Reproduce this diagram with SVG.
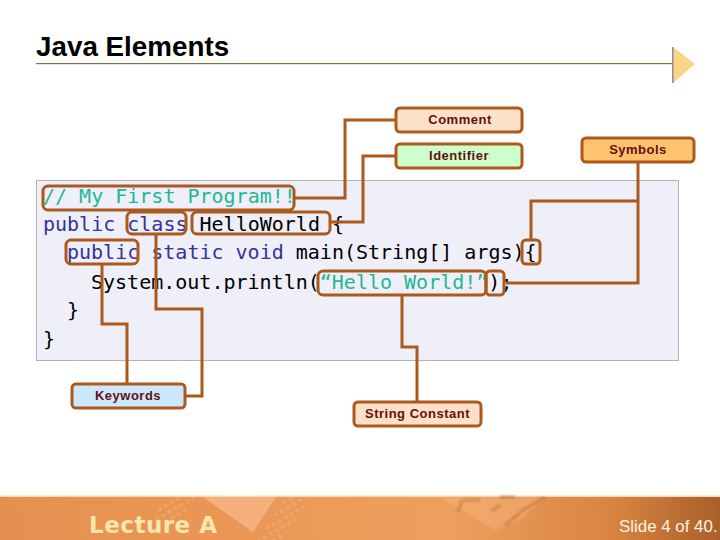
<svg xmlns="http://www.w3.org/2000/svg" width="720" height="540" viewBox="0 0 720 540">
<style>
.code{font-family:"DejaVu Sans Mono","Liberation Mono",monospace;font-size:20px;fill:#000}
.kw{fill:#333399}.cm{fill:#1fb894}
.hl{fill:none;stroke:#ab5a1c;stroke-width:3}
.box{stroke:#ab5a1c;stroke-width:3}
.lbl{font-family:"Liberation Sans",Arial,sans-serif;font-size:13px;font-weight:bold;fill:#660f0f;text-anchor:middle;letter-spacing:.5px}
#connectors path{fill:none;stroke:#ab5a1c;stroke-width:3}
.mark{fill:none;stroke:#b8702e;stroke-width:3;opacity:.55;filter:url(#soft)}
</style>
<defs>
<filter id="soft" x="-20%" y="-20%" width="140%" height="140%"><feGaussianBlur stdDeviation="1"/></filter>
<linearGradient id="foot" x1="0" x2="1" y1="0" y2="0">
<stop offset="0" stop-color="#e59050"/><stop offset=".3" stop-color="#ea9654"/><stop offset=".62" stop-color="#efa05e"/><stop offset=".85" stop-color="#d98440"/><stop offset="1" stop-color="#a8602a"/>
</linearGradient>
<linearGradient id="fade" x1="0" x2="0" y1="0" y2="1">
<stop offset="0" stop-color="#fff" stop-opacity="0"/><stop offset="1" stop-color="#f6c49a"/>
</linearGradient>
<pattern id="dots" width="7" height="7" patternUnits="userSpaceOnUse" patternTransform="rotate(-30)">
<rect x="1" y="1" width="3.500" height="3.500" fill="#f6b888" opacity=".4"/>
</pattern>
</defs>
<rect width="720" height="540" fill="#fff"/>
<g id="footer">
<rect x="0" y="497" width="720" height="43" fill="url(#foot)"/>
<rect x="0" y="494" width="720" height="3" fill="url(#fade)"/>
<polygon points="165,497 195,497 180,522 150,522" fill="url(#dots)"/>
<polygon points="285,497 312,497 282,540 258,540" fill="url(#dots)"/>
<polygon points="203,497 276,497 253,532" fill="#f3b07c"/>
<polygon points="440,497 470,497 545,497 520,520 495,530 462,510" fill="#f5b27c" opacity=".55" filter="url(#soft)"/>
<path class="mark" d="M462 500 L458 512M464 500H480M500 505L492 511M515 497H500M545 497 L520 512M505 525 L520 513"/>
<text x="89" y="533" font-family="'DejaVu Sans','Liberation Sans',sans-serif" font-size="23" font-weight="bold" fill="#fbe6ae" letter-spacing=".5">Lecture A</text>
<text x="619" y="532" font-family="'Liberation Sans',Arial,sans-serif" font-size="16.900" fill="#fff4e2">Slide 4 of 40.</text>
</g>
<g id="title">
<text x="36" y="56" font-family="'Liberation Sans',Arial,sans-serif" font-size="27.800" font-weight="bold" fill="#000">Java Elements</text>
<rect x="36" y="63" width="636" height="1.200" fill="#8a7040"/>
<polygon points="673,47 695,64 673,83" fill="#fbd48a"/>
<rect x="672" y="47" width="1.500" height="36" fill="#8f8f8f"/>
</g>
<g id="panel">
<rect x="36.500" y="180.500" width="642" height="180" fill="#eeeff9" stroke="#b4b4b4"/>
</g>
<g id="code">
<text class="code cm" x="43" y="203">// My First Program!!</text>
<text class="code" x="43" y="231"><tspan class="kw">public class</tspan> HelloWorld {</text>
<text class="code" x="67" y="259"><tspan class="kw">public static void</tspan> main(String[] args){</text>
<text class="code" x="91" y="289">System.out.println(<tspan class="cm">“Hello World!”</tspan>);</text>
<text class="code" x="67" y="317">}</text>
<text class="code" x="43" y="346">}</text>
</g>
<g id="connectors">
<path d="M294 198H345V120H396"/>
<path d="M330 222H363V156H396"/>
<path d="M156 234V309H202V396H186"/>
<path d="M102 264V324H127V384"/>
<path d="M638 162V283H506"/>
<path d="M638 201H531V240"/>
<path d="M402 295V347H417V402"/>
</g>
<g id="highlights">
<rect class="hl" x="43" y="186" width="251" height="24" rx="5"/>
<rect class="hl" x="127" y="212" width="59" height="22" rx="5"/>
<rect class="hl" x="192" y="212" width="138" height="22" rx="5"/>
<rect class="hl" x="66" y="240" width="72" height="24" rx="5"/>
<rect class="hl" x="522" y="240" width="18" height="24" rx="4"/>
<rect class="hl" x="318" y="271" width="168" height="24" rx="5"/>
<rect class="hl" x="486" y="271" width="18" height="24" rx="4"/>
</g>
<g id="comment"><rect class="box" x="396" y="108" width="126" height="24" rx="4" fill="#fde0c8"/><text class="lbl" x="460" y="124">Comment</text></g>
<g id="identifier"><rect class="box" x="396" y="144" width="126" height="24" rx="4" fill="#ccffcc"/><text class="lbl" x="459" y="160">Identifier</text></g>
<g id="symbols"><rect class="box" x="582" y="138" width="112" height="24" rx="4" fill="#ffc26e"/><text class="lbl" x="638" y="154">Symbols</text></g>
<g id="keywords"><rect class="box" x="72" y="384" width="113" height="24" rx="4" fill="#cce8ff"/><text class="lbl" x="128" y="400">Keywords</text></g>
<g id="string-constant"><rect class="box" x="354" y="402" width="127" height="24" rx="4" fill="#fde0c8"/><text class="lbl" x="417.500" y="418">String Constant</text></g>
</svg>
